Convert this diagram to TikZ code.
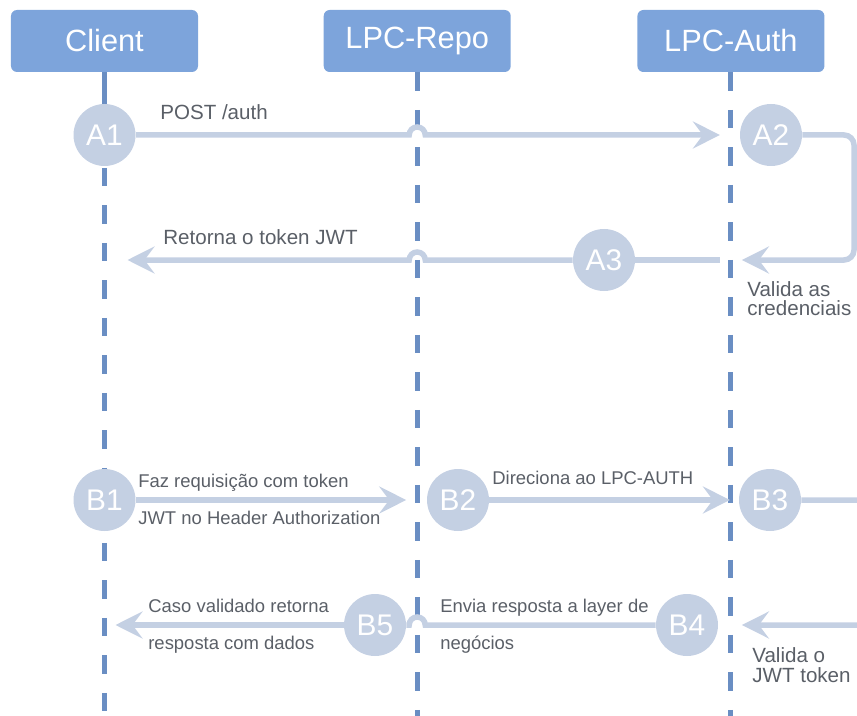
\documentclass[tikz,border=0pt]{standalone}
\usepackage{fontspec}
\setmainfont{Liberation Sans}
\usepackage{xcolor}
\usepackage{tikz}
\usetikzlibrary{arrows.meta, positioning, calc, backgrounds}

\definecolor{hdrblue}{RGB}{125,164,219}
\definecolor{lineblue}{RGB}{106,142,195}
\definecolor{stagegray}{RGB}{196,208,227}
\definecolor{txtgray}{RGB}{90,95,103}

\begin{document}
\begin{tikzpicture}[
    node distance=2.5cm,
    header/.style={rectangle, fill=hdrblue, rounded corners=0.12cm, minimum width=3.74cm, minimum height=1.24cm, text=white, font=\fontsize{17.5}{20}\selectfont},
    stage/.style={circle, fill=stagegray, minimum size=1.24cm, inner sep=0pt, text=white, font=\fontsize{17}{19}\selectfont},
    lifeline/.style={line width=0.1cm, lineblue, dash pattern=on 0.37cm off 0.38cm},
    msg/.style={line width=0.11cm, stagegray},
    arr/.style={-{Stealth[length=0.54cm, width=0.54cm, inset=0.2cm]}},
    note/.style={text=txtgray, inner sep=0pt, anchor=base west},
    bignote/.style={note, font=\fontsize{11.7}{14}\selectfont},
    smallnote/.style={note, font=\fontsize{10.5}{12}\selectfont}
]

\useasboundingbox (0,0) rectangle (17.14,-14.32);
\clip (0,0) rectangle (17.14,-14.32);
\coordinate (bottom) at (0,-14.5);

% Headers
\node[header] (client) at (2.09,-0.82) {Client};
\node[header, right=2.5cm of client] (repo) {LPC-Repo};
\node[header, right=2.52cm of repo] (auth) {LPC-Auth};

% Steps
\node[stage] (a1) at (2.09,-2.7) {A1};
\node[stage] (a2) at (15.42,-2.7) {A2};
\node[stage] (a3) at (12.08,-5.2) {A3};
\node[stage] (b1) at (2.09,-10) {B1};
\node[stage] (b2) at (9.16,-10) {B2};
\node[stage] (b3) at (15.4,-10) {B3};
\node[stage] (b4) at (13.74,-12.5) {B4};
\node[stage] (b5) at (7.5,-12.5) {B5};

% Lifelines
\begin{scope}[on background layer]
\draw[lifeline, dash phase=0.34cm] (client.south) -- (client |- bottom);
\draw[line width=0.1cm, lineblue] (client.south) -- (a1.north);
\draw[lifeline] (repo.south) -- (repo |- bottom);
\draw[lifeline] (auth.south) -- (auth |- bottom);
\end{scope}

% Login flow
\draw[msg, arr] (a1.east) -- ($(repo |- a1)+(-0.16,0)$) arc[start angle=180, end angle=0, radius=0.16] -- ($(auth |- a1)+(-0.22,0)$);
\draw[msg, arr, rounded corners=0.2cm] (a2.east) -- (17.08,-2.7) -- (17.08,-5.2) -- ($(auth |- a3)+(0.22,0)$);
\draw[msg] ($(auth |- a3)+(-0.22,0)$) -- (a3.east);
\draw[msg, arr] (a3.west) -- ($(repo |- a3)+(0.16,0)$) arc[start angle=0, end angle=180, radius=0.16] -- ($(client |- a3)+(0.46,0)$);

\node[bignote] (post) at (3.2,-2.4) {POST /auth};
\node[bignote] (token) at (3.26,-4.9) {Retorna o token JWT};
\node[bignote] (cred1) at (14.94,-5.92) {Valida as};
\node[bignote] (cred2) at (14.94,-6.31) {credenciais};

% Request flow
\draw[msg, arr] (b1.east) -- ($(repo |- b1)+(-0.22,0)$);
\draw[msg, arr] (b2.east) -- ($(auth |- b2)+(-0.02,0)$);
\draw[msg, arr, rounded corners=0.2cm] (b3.east) -- (17.6,-10) -- (17.6,-12.5) -- ($(auth |- b4)+(0.22,0)$);
\draw[msg] (b4.west) -- ($(repo |- b4)+(0.16,0)$) arc[start angle=0, end angle=180, radius=0.16] -- (b5.east);
\draw[msg, arr] (b5.west) -- ($(client |- b5)+(0.22,0)$);

\node[smallnote] (req1) at (2.76,-9.74) {Faz requisição com token};
\node[smallnote] (req2) at (2.76,-10.48) {JWT no Header Authorization};
\node[smallnote] (fwd) at (9.84,-9.68) {Direciona ao LPC-AUTH};
\node[smallnote] (resp1) at (8.8,-12.24) {Envia resposta a layer de};
\node[smallnote] (resp2) at (8.8,-12.98) {negócios};
\node[smallnote] (data1) at (2.96,-12.24) {Caso validado retorna};
\node[smallnote] (data2) at (2.96,-12.98) {resposta com dados};
\node[bignote] (jwt1) at (15.04,-13.24) {Valida o};
\node[bignote] (jwt2) at (15.04,-13.64) {JWT token};

\end{tikzpicture}
\end{document}
